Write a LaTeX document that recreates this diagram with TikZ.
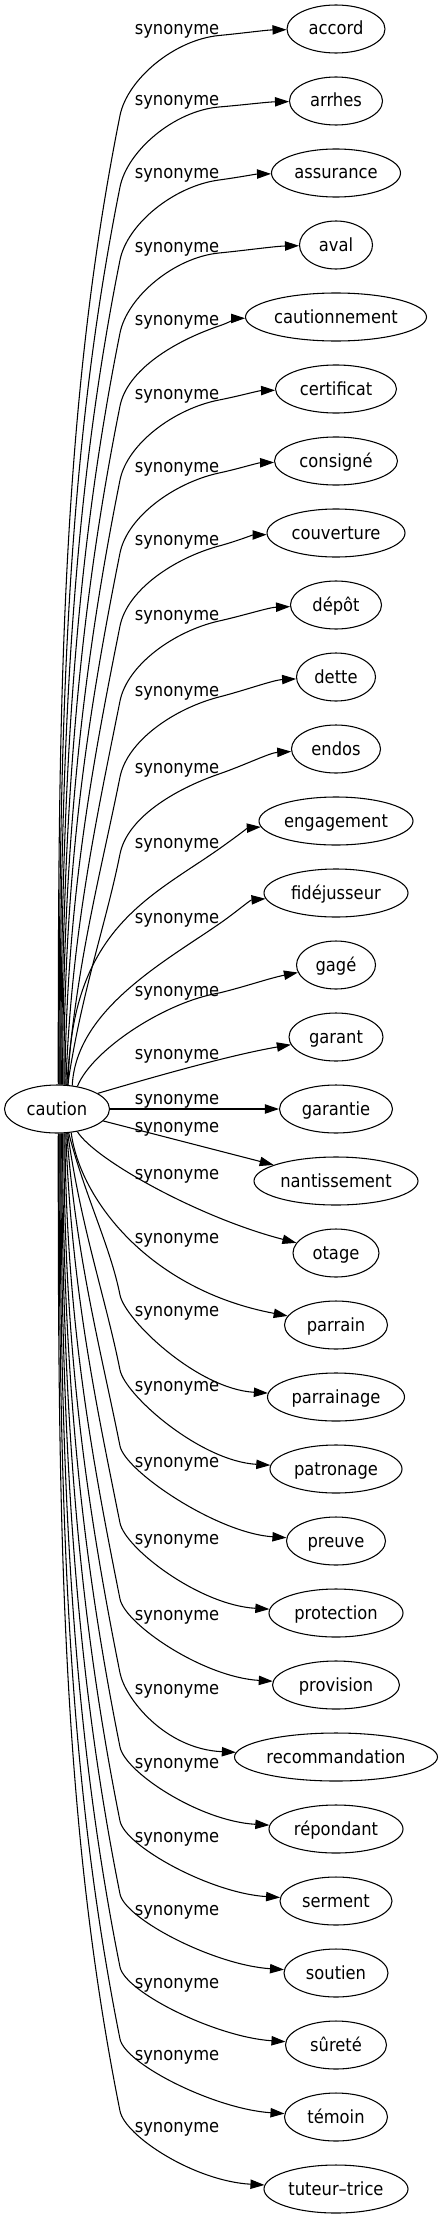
\documentclass[tikz,border=0pt]{standalone}
\usepackage{fontspec}
\setmainfont{DejaVu Sans}[FakeStretch=0.9]
\usetikzlibrary{arrows.meta,shapes.geometric}
\begin{document}
\begin{tikzpicture}[x=0.75pt,y=-0.75pt,
  word/.style={ellipse,draw,line width=0.8pt,inner sep=0pt,minimum height=36pt,
    text height=12pt,text depth=3pt,font=\fontsize{13.6pt}{16pt}\selectfont},
  lbl/.style={inner sep=0pt,anchor=base,font=\fontsize{13.6pt}{16pt}\selectfont},
  syn/.style={line width=0.8pt,-{Triangle[length=10.5pt,width=7pt]}}]
\useasboundingbox (0,0) rectangle (443,2219);
\node[word,minimum width=78.75pt] (c) at (57,1109) {caution};
\foreach \i/\t/\w/\yl in {0/accord/98/28.5, 1/arrhes/93/100, 2/assurance/129/173, 3/aval/73/246,
  4/cautionnement/181/319, 5/certificat/121/393, 6/consigné/123/466, 7/couverture/138/539,
  8/dépôt/91/614, 9/dette/79/690, 10/endos/89/767, 11/engagement/154/842, 12/fidéjusseur/144/917,
  13/gagé/79/990, 14/garant/94/1053, 15/garantie/113/1098, 16/nantissement/164/1126,
  17/otage/86/1173, 18/parrain/103/1237, 19/parrainage/137/1310, 20/patronage/132/1385,
  21/preuve/99/1461, 22/protection/134/1538, 23/provision/127/1614, 24/recommandation/203/1688,
  25/répondant/134/1762, 26/serment/112/1836, 27/soutien/104/1909, 28/sûreté/101/1982,
  29/témoin/103/2054, 30/tuteur–trice/144/2126} {
  \pgfmathsetmacro\Yt{29+72*\i}
  \node[word,minimum width=\w*0.75pt] (n\i) at (336,\Yt) {\t};
  \node[lbl] (l\i) at (177,\yl+6) {synonyme};
}
% upward edges
\foreach \i/\yl/\xs/\w in {0/28.5/58/98, 1/100/58.9/93, 2/173/59.8/129, 3/246/60.7/73,
  4/319/61.6/181, 5/393/62.5/121, 6/466/63.4/123, 7/539/64.3/138, 8/614/65.2/91,
  9/690/66.1/79, 10/767/67/89} {
  \pgfmathsetmacro\Yt{29+72*\i}
  \pgfmathsetmacro\Xw{336-\w/2}
  \pgfmathsetmacro\Ys{1109-24*sqrt(1-((\xs-57)/52)^2)}
  \pgfmathsetmacro\Ang{atan2(1109-\Ys,\xs-57)}
  \pgfmathsetmacro\Yk{\yl+87}
  \pgfmathsetmacro\Dd{\Ys-\Yk}
  \pgfmathsetmacro\Ff{max(0,0.5-\Dd/1000)}
  \pgfmathsetmacro\Xa{\xs+(120-\xs)*\Ff}
  \pgfmathsetmacro\Ya{\Ys-0.4*\Dd}
  \pgfmathsetmacro\Xb{120-0.06*\Dd}
  \pgfmathsetmacro\Yb{\Yk+0.3*\Dd}
  \pgfmathsetmacro\Yw{\yl+7}
  \pgfmathsetmacro\Mm{0.45*(\Yk-\Yw)}
  \pgfmathsetmacro\Xc{120+0.2*\Mm}
  \pgfmathsetmacro\Yc{\Yk-\Mm}
  \pgfmathsetmacro\Sl{(\Yt-\Yw)/(\Xw-219)}
  \pgfmathsetmacro\Yd{\Yw-45*\Sl}
  \pgfmathsetmacro\Dx{\Xw-219}
  \pgfmathsetmacro\Xe{219+0.35*\Dx}
  \pgfmathsetmacro\Ye{\Yw+0.35*\Dx*\Sl}
  \pgfmathsetmacro\Xf{219+0.7*\Dx}
  \pgfmathsetmacro\Yf{\Yw+0.85*(\Yt-\Yw)}
  \draw[syn] (c.\Ang) .. controls (\Xa,\Ya) and (\Xb,\Yb) .. (120,\Yk)
    .. controls (\Xc,\Yc) and (174,\Yd) .. (219,\Yw)
    .. controls (\Xe,\Ye) and (\Xf,\Yf) .. (n\i);
}
% near edges
\draw[syn] (c.65) .. controls (70,930) and (149,898) .. (219,849)
  .. controls (233,839) and (248,828) .. (n11);
\draw[syn] (c.57) .. controls (76,1010) and (164,962) .. (219,924)
  .. controls (235,913) and (250,900) .. (n12);
\draw[syn] (c.48) .. controls (92,1050) and (165,1002) .. (219,993)
  .. controls (244,987) and (270,978) .. (n13);
\draw[syn] (c.21) .. controls (150,1078) and (230,1055) .. (n14);
\draw[syn] (c) -- (n15);
\draw[syn] (c) -- (n16);
\draw[syn] (c.-48) .. controls (95,1160) and (200,1218) .. (n17);
\draw[syn] (c.-59) .. controls (80,1200) and (150,1290) .. (n18);
% downward edges
\foreach \i/\yl/\xs/\w in {19/1310/68/137, 20/1385/67/132,
  21/1461/66.1/99, 22/1538/65.2/134, 23/1614/64.3/127, 24/1688/63.4/203, 25/1762/62.5/134,
  26/1836/61.6/112, 27/1909/60.7/104, 28/1982/59.8/101, 29/2054/58.9/103, 30/2126/58/144} {
  \pgfmathsetmacro\Yt{29+72*\i}
  \pgfmathsetmacro\Xw{336-\w/2}
  \pgfmathsetmacro\Ys{1109+24*sqrt(1-((\xs-57)/52)^2)}
  \pgfmathsetmacro\Ang{atan2(1109-\Ys,\xs-57)}
  \pgfmathsetmacro\Yk{\yl-15}
  \pgfmathsetmacro\Dd{\Yk-\Ys}
  \pgfmathsetmacro\Ff{max(0,0.5-\Dd/1000)}
  \pgfmathsetmacro\Xa{\xs+(120-\xs)*\Ff}
  \pgfmathsetmacro\Ya{\Ys+0.4*\Dd}
  \pgfmathsetmacro\Xb{120-0.06*\Dd}
  \pgfmathsetmacro\Yb{\Yk-0.3*\Dd}
  \pgfmathsetmacro\Yc{\yl+10}
  \pgfmathsetmacro\Xd{\Xw-70}
  \pgfmathsetmacro\Yd{\Yt-8}
  \draw[syn] (c.\Ang) .. controls (\Xa,\Ya) and (\Xb,\Yb) .. (120,\Yk)
    .. controls (125,\Yc) and (\Xd,\Yd) .. (n\i);
}
\end{tikzpicture}
\end{document}
